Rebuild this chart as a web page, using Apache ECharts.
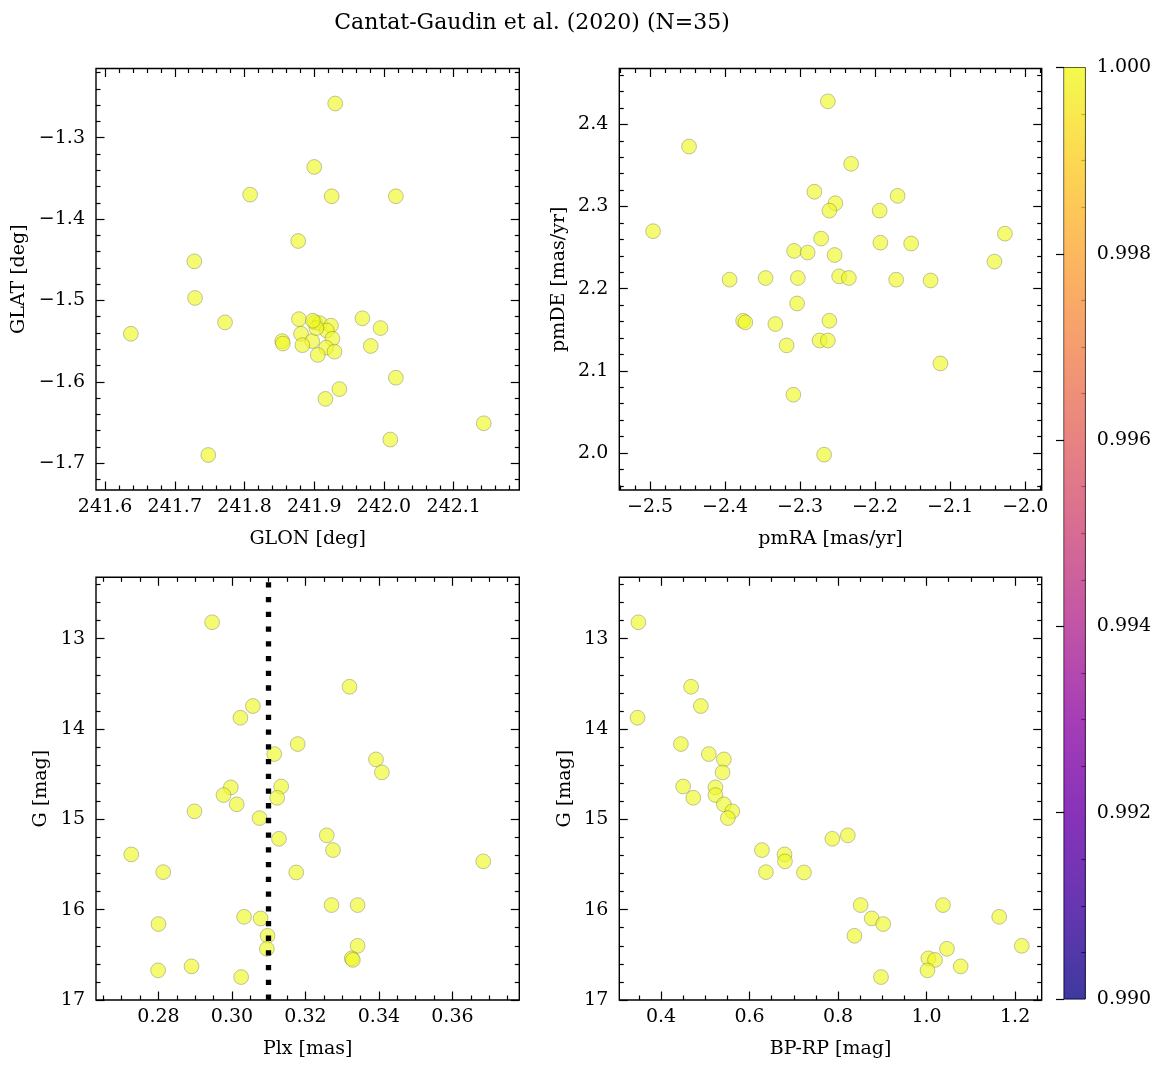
<!DOCTYPE html>
<html>
<head>
<meta charset="utf-8">
<title>Cantat-Gaudin et al. (2020) (N=35)</title>
<script src="https://cdn.jsdelivr.net/npm/echarts@6.0.0/dist/echarts.min.js"></script>
<style>
  html, body { margin: 0; padding: 0; background: #fff; }
  #chart { width: 1161px; height: 1067px; }
</style>
</head>
<body>
<div id="chart"></div>
<script>
// Member stars, values
var glon = [241.930, 241.900, 241.808, 241.925, 242.017, 241.877, 241.728, 241.729, 241.772, 241.637,
            241.878, 241.901, 241.908, 241.924, 241.918, 241.881, 241.926, 241.897, 241.854, 241.855,
            241.883, 241.917, 241.929, 241.905, 241.969, 241.995, 241.981, 242.017, 241.936, 241.916,
            242.143, 242.009, 241.748, 241.903, 241.898];
var glat = [-1.258, -1.336, -1.370, -1.372, -1.372, -1.427, -1.452, -1.497, -1.527, -1.541,
            -1.523, -1.527, -1.528, -1.531, -1.537, -1.541, -1.547, -1.550, -1.550, -1.553,
            -1.555, -1.558, -1.563, -1.567, -1.522, -1.534, -1.556, -1.595, -1.609, -1.621,
            -1.651, -1.671, -1.690, -1.534, -1.525];

var pmra = [-2.263, -2.448, -2.232, -2.281, -2.253, -2.261, -2.170, -2.194, -2.496, -2.027,
            -2.272, -2.308, -2.290, -2.254, -2.193, -2.152, -2.041, -2.394, -2.346, -2.303,
            -2.248, -2.235, -2.172, -2.126, -2.304, -2.376, -2.373, -2.333, -2.261, -2.274,
            -2.263, -2.318, -2.113, -2.309, -2.268];
var pmde = [2.428, 2.373, 2.352, 2.318, 2.304, 2.295, 2.313, 2.295, 2.270, 2.267,
            2.261, 2.246, 2.244, 2.241, 2.256, 2.255, 2.233, 2.211, 2.213, 2.213,
            2.215, 2.213, 2.211, 2.210, 2.182, 2.161, 2.159, 2.157, 2.161, 2.137,
            2.137, 2.131, 2.109, 2.071, 1.998];

var plx  = [0.2946, 0.3320, 0.3057, 0.3023, 0.3179, 0.3115, 0.3392, 0.3408, 0.3134, 0.2997,
            0.2977, 0.3123, 0.3013, 0.2898, 0.3075, 0.3258, 0.3128, 0.3275, 0.2726, 0.3684,
            0.2813, 0.3175, 0.3271, 0.3342, 0.3033, 0.3078, 0.2800, 0.3097, 0.3342, 0.3095,
            0.3326, 0.3329, 0.2890, 0.2799, 0.3025];
var gmag = [12.818, 13.532, 13.745, 13.875, 14.166, 14.277, 14.336, 14.480, 14.636, 14.646,
            14.731, 14.761, 14.834, 14.911, 14.986, 15.177, 15.215, 15.340, 15.388, 15.465,
            15.584, 15.588, 15.949, 15.949, 16.079, 16.097, 16.159, 16.289, 16.400, 16.433,
            16.539, 16.556, 16.628, 16.672, 16.746];
var bprp = [0.349, 0.468, 0.490, 0.347, 0.445, 0.508, 0.542, 0.539, 0.450, 0.523,
            0.523, 0.473, 0.542, 0.561, 0.551, 0.822, 0.787, 0.628, 0.679, 0.680,
            0.637, 0.723, 0.851, 1.037, 1.164, 0.876, 0.902, 0.837, 1.215, 1.046,
            1.004, 1.019, 1.077, 1.002, 0.897];

var plxMean = 0.3096;

// Axis ranges and tick labels
var glonRange = [241.587, 242.194], glonTicks = [241.6, 241.7, 241.8, 241.9, 242.0, 242.1];
var glatRange = [-1.733, -1.215],   glatTicks = [-1.7, -1.6, -1.5, -1.4, -1.3];
var pmraRange = [-2.541, -1.978],   pmraTicks = [-2.5, -2.4, -2.3, -2.2, -2.1, -2.0];
var pmdeRange = [1.955, 2.468],     pmdeTicks = [2.0, 2.1, 2.2, 2.3, 2.4];
var plxRange  = [0.2630, 0.3782],   plxTicks  = [0.28, 0.30, 0.32, 0.34, 0.36];
var bprpRange = [0.3058, 1.260],    bprpTicks = [0.4, 0.6, 0.8, 1.0, 1.2];
var gRange    = [12.32, 17.0],      gTicks    = [13, 14, 15, 16, 17];
var cbarTicks = [0.990, 0.992, 0.994, 0.996, 0.998, 1.000];

var FONT = 'DejaVu Serif';
var plasma = ['#0d0887', '#41049d', '#6a00a8', '#8f0da4', '#b12a90', '#cc4778',
              '#e16462', '#f2844b', '#fca636', '#fcce25', '#f0f921'];

function fmt(d) {
  return function (v) { return (v < 0 ? '\u2212' : '') + Math.abs(v).toFixed(d); };
}

// minor tick positions between (and around) the major ticks
function minorTicks(majors, div, lo, hi) {
  var step = (majors[1] - majors[0]) / div;
  var out = [];
  var start = majors[0] - Math.floor((majors[0] - lo) / step) * step;
  for (var k = 0; k < 500; k++) {
    var v = start + k * step;
    if (v > hi + 1e-9) break;
    var r = Math.round((v - majors[0]) / step);
    if (r % div !== 0) out.push(+v.toFixed(6));
  }
  return out;
}

var xAxes = [], yAxes = [];

// main labelled axis + minor axis, and mirrored ticks on the opposite side
function addAxes(list, dim, gridIndex, ax) {
  var first = list.length;
  var sides = ax.sides || (dim === 'x' ? ['bottom', 'top'] : ['left', 'right']);
  var minors = minorTicks(ax.ticks, ax.div, ax.range[0], ax.range[1]);
  sides.forEach(function (side, si) {
    [[ax.ticks, ax.major || 8.5], [minors, ax.minor || 4.5]].forEach(function (t, ti) {
      var labelled = si === 0 && ti === 0;
      list.push({
        type: 'value', gridIndex: gridIndex, position: side,
        min: ax.range[0], max: ax.range[1], inverse: !!ax.inverse,
        axisLine: { show: false },
        splitLine: { show: false },
        axisTick: { show: true, inside: true, length: t[1], customValues: t[0],
                    lineStyle: { color: '#000', width: 1.2 } },
        axisLabel: { show: labelled, customValues: ax.ticks, formatter: ax.fmt,
                     margin: ax.margin, color: '#000', fontFamily: FONT, fontSize: 19 },
        name: labelled ? ax.name : '',
        nameLocation: 'middle', nameGap: ax.gap, nameMoveOverlap: false,
        nameTextStyle: { color: '#000', fontFamily: FONT, fontSize: 19 }
      });
    });
  });
  return first;
}

var boxes = [
  { left: 96,    top: 68.5,  width: 423.3, height: 421.5 },
  { left: 619.3, top: 68.5,  width: 422.4, height: 421.5 },
  { left: 96,    top: 577.3, width: 423.3, height: 422.7 },
  { left: 619.3, top: 577.3, width: 422.4, height: 422.7 },
  { left: 1064,  top: 67.5,  width: 21.3,  height: 931.5 }
];
var grids = boxes.map(function (b, i) {
  return { left: b.left, top: b.top, width: b.width, height: b.height,
           show: true, borderColor: '#000', borderWidth: i === 4 ? 1 : 1.4,
           backgroundColor: 'transparent', containLabel: false, outerBoundsMode: 'none' };
});

var panels = [
  { x: { range: glonRange, ticks: glonTicks, div: 5, fmt: fmt(1), name: 'GLON [deg]', gap: 39.5, margin: 8 },
    y: { range: glatRange, ticks: glatTicks, div: 5, fmt: fmt(1), name: 'GLAT [deg]', gap: 67, margin: 11 },
    xs: glon, ys: glat },
  { x: { range: pmraRange, ticks: pmraTicks, div: 5, fmt: fmt(1), name: 'pmRA [mas/yr]', gap: 39.5, margin: 8 },
    y: { range: pmdeRange, ticks: pmdeTicks, div: 5, fmt: fmt(1), name: 'pmDE [mas/yr]', gap: 51, margin: 11 },
    xs: pmra, ys: pmde },
  { x: { range: plxRange, ticks: plxTicks, div: 4, fmt: fmt(2), name: 'Plx [mas]', gap: 39.5, margin: 8 },
    y: { range: gRange, ticks: gTicks, div: 5, fmt: fmt(0), name: 'G [mag]', gap: 45, margin: 11, inverse: true },
    xs: plx, ys: gmag },
  { x: { range: bprpRange, ticks: bprpTicks, div: 4, fmt: fmt(1), name: 'BP-RP [mag]', gap: 39.5, margin: 8 },
    y: { range: gRange, ticks: gTicks, div: 5, fmt: fmt(0), name: 'G [mag]', gap: 45, margin: 11, inverse: true },
    xs: bprp, ys: gmag }
];

var series = [];
panels.forEach(function (p, gi) {
  var xi = addAxes(xAxes, 'x', gi, p.x);
  var yi = addAxes(yAxes, 'y', gi, p.y);
  var s = {
    type: 'scatter', xAxisIndex: xi, yAxisIndex: yi,
    symbol: 'circle', symbolSize: 14.8,
    itemStyle: { color: 'rgba(240,249,33,0.8)', borderColor: 'rgba(90,90,90,0.75)', borderWidth: 0.6 },
    data: p.xs.map(function (v, i) { return [v, p.ys[i]]; })
  };
  if (gi === 2) {
    s.markLine = {
      silent: true, symbol: ['none', 'none'], label: { show: false },
      lineStyle: { color: '#000', width: 5.3, type: [5.3, 9.42], dashOffset: 9.7, cap: 'butt' },
      data: [{ xAxis: plxMean }]
    };
  }
  series.push(s);
});

// colorbar
var cbX = xAxes.length;
xAxes.push({ type: 'value', gridIndex: 4, min: 0, max: 1, show: false });
var cbY = addAxes(yAxes, 'y', 4, { range: [0.990, 1.000], ticks: cbarTicks, div: 4, fmt: fmt(3),
                                   name: '', gap: 0, margin: 11.5, sides: ['right'], major: 8, minor: 4 });
series.push({
  type: 'custom', xAxisIndex: cbX, yAxisIndex: cbY, silent: true,
  encode: { x: 0, y: [1, 2] },
  data: [[0, cbarTicks[0], cbarTicks[cbarTicks.length - 1]]],
  renderItem: function (params, api) {
    var lo = api.coord([0, api.value(1)]);
    var hi = api.coord([0, api.value(2)]);
    var cs = params.coordSys;
    var stops = plasma.map(function (c, i) { return { offset: i / (plasma.length - 1), color: c }; });
    return {
      type: 'rect',
      shape: { x: cs.x, y: hi[1], width: cs.width, height: lo[1] - hi[1] },
      style: { fill: new echarts.graphic.LinearGradient(0, 1, 0, 0, stops), opacity: 0.8 }
    };
  }
});

var chart = echarts.init(document.getElementById('chart'));
chart.setOption({
  animation: false,
  backgroundColor: '#fff',
  title: {
    text: 'Cantat-Gaudin et al. (2020) (N=35)',
    left: 527, top: 7, textAlign: 'center',
    textStyle: { fontFamily: FONT, fontSize: 22, fontWeight: 'normal', color: '#000' }
  },
  grid: grids,
  xAxis: xAxes,
  yAxis: yAxes,
  series: series
});
</script>
</body>
</html>
